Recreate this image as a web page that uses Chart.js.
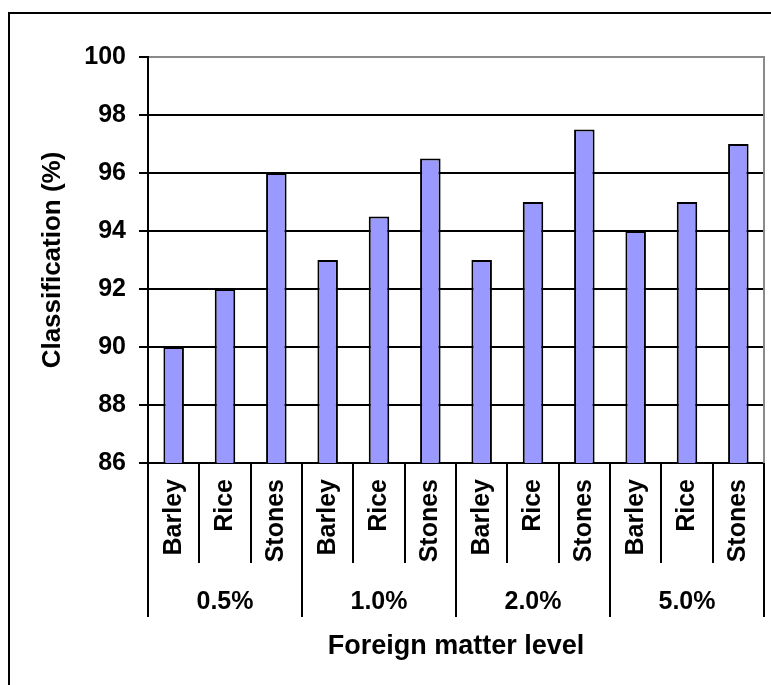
<!DOCTYPE html>
<html>
<head>
<meta charset="utf-8">
<script src="https://cdn.jsdelivr.net/npm/chart.js@4/dist/chart.umd.min.js"></script>
<style>
  html, body { margin: 0; padding: 0; background: #fff; }
  #wrap { width: 771px; height: 685px; position: relative; }
</style>
</head>
<body>
<div id="wrap"><canvas id="c" width="771" height="685"></canvas></div>
<script>
// ---- data ----
const groups = ['0.5%', '1.0%', '2.0%', '5.0%'];
const materials = ['Barley', 'Rice', 'Stones'];
const classification = [90, 92, 96, 93, 94.5, 96.5, 93, 95, 97.5, 94, 95, 97];
const yTicks = [86, 88, 90, 92, 94, 96, 98, 100];
const yTitle = 'Classification (%)';
const xTitle = 'Foreign matter level';

const labels = [];
groups.forEach(() => materials.forEach(m => labels.push(m)));

const FONT = "'Liberation Sans', Arial, sans-serif";

const frameAndGroups = {
  id: 'frameAndGroups',
  beforeDraw(chart) {
    const ctx = chart.ctx;
    ctx.save();
    ctx.fillStyle = '#fff';
    ctx.fillRect(0, 0, chart.width, chart.height);
    // outer frame (top and left visible)
    ctx.strokeStyle = '#000';
    ctx.lineWidth = 2;
    ctx.beginPath();
    ctx.moveTo(9, chart.height + 5);
    ctx.lineTo(9, 13);
    ctx.lineTo(chart.width + 5, 13);
    ctx.stroke();
    ctx.restore();
  },
  afterDraw(chart) {
    const ctx = chart.ctx;
    const xs = chart.scales.x;
    const area = chart.chartArea;
    const n = labels.length;
    const step = xs.getPixelForValue(1) - xs.getPixelForValue(0);
    const edge = i => xs.getPixelForValue(0) - step / 2 + i * step;
    ctx.save();
    // right plot border (grey)
    ctx.strokeStyle = '#8a8a8a';
    ctx.lineWidth = 2;
    ctx.beginPath();
    ctx.moveTo(area.right, area.top - 1);
    ctx.lineTo(area.right, area.bottom);
    ctx.stroke();
    // separators
    ctx.strokeStyle = '#000';
    ctx.lineWidth = 2;
    for (let i = 0; i <= n; i++) {
      const x = Math.round(edge(i));
      const long = (i % materials.length === 0);
      ctx.beginPath();
      ctx.moveTo(x, area.bottom);
      ctx.lineTo(x, area.bottom + (long ? 154 : 100));
      ctx.stroke();
    }
    // group labels
    ctx.fillStyle = '#000';
    ctx.font = 'bold 25px ' + FONT;
    ctx.textAlign = 'center';
    ctx.textBaseline = 'middle';
    groups.forEach((g, gi) => {
      const cx = (edge(gi * materials.length) + edge((gi + 1) * materials.length)) / 2;
      ctx.fillText(g, cx, area.bottom + 139);
    });
    ctx.restore();
  }
};

new Chart(document.getElementById('c'), {
  type: 'bar',
  data: {
    labels: labels,
    datasets: [{
      data: classification,
      backgroundColor: '#9999ff',
      borderColor: '#000',
      borderWidth: 2,
      barPercentage: 0.4,
      categoryPercentage: 1.0
    }]
  },
  options: {
    responsive: false,
    animation: false,
    devicePixelRatio: 1,
    layout: { padding: { left: 0, top: 57, right: 7, bottom: 0 }, autoPadding: false },
    plugins: { legend: { display: false }, tooltip: { enabled: false } },
    scales: {
      x: {
        type: 'category',
        offset: true,
        grid: { display: false, drawTicks: false },
        border: { display: true, color: '#000', width: 2 },
        ticks: {
          minRotation: 90, maxRotation: 90, autoSkip: false,
          padding: 16, color: '#000',
          font: { family: FONT, size: 25, weight: 'bold' }
        },
        title: {
          display: true, text: xTitle, color: '#000',
          font: { family: FONT, size: 27, weight: 'bold' },
          padding: { top: 0, bottom: 22 }
        },
        afterFit(s) { s.height = 222; s.paddingLeft = 0; s.paddingRight = 0; }
      },
      y: {
        min: 86, max: 100,
        afterBuildTicks(s) { s.ticks = yTicks.map(v => ({ value: v })); },
        grid: {
          color: c => (c.tick && c.tick.value === 100) ? '#8a8a8a' : '#000',
          lineWidth: 2,
          tickLength: 9,
          tickColor: '#000',
          drawTicks: true
        },
        border: { display: true, color: '#000', width: 2 },
        ticks: {
          padding: 13, color: '#000',
          font: { family: FONT, size: 25, weight: 'bold' }
        },
        title: {
          display: true, text: yTitle, color: '#000',
          font: { family: FONT, size: 26, weight: 'bold' },
          padding: { top: 37, bottom: 0 }
        },
        afterFit(s) { s.width = 148; s.paddingTop = 0; s.paddingBottom = 0; }
      }
    }
  },
  plugins: [frameAndGroups]
});
</script>
</body>
</html>
